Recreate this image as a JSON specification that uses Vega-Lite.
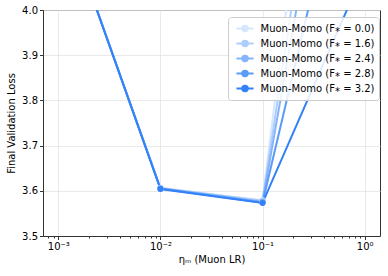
{
  "$schema": "https://vega.github.io/schema/vega-lite/v6.json",
  "autosize": "none",
  "width": 337,
  "height": 226,
  "padding": {"left": 43, "top": 10, "right": 8, "bottom": 40},
  "background": "white",
  "config": {
    "font": "DejaVu Sans",
    "view": {"stroke": "#333333", "strokeWidth": 1},
    "axis": {
      "labelFontSize": 10,
      "titleFontSize": 10,
      "titleFontWeight": "normal",
      "labelColor": "#000000",
      "titleColor": "#000000",
      "domainColor": "#333333",
      "tickColor": "#333333",
      "gridColor": "#e3e3e3",
      "gridWidth": 0.8,
      "labelFont": "DejaVu Sans",
      "titleFont": "DejaVu Sans"
    },
    "legend": {"labelFont": "DejaVu Sans"}
  },
  "data": {
    "values": [
      {"label": "Muon-Momo (F⁎ = 0.0)", "lr": 0.001, "loss": 4.24},
      {"label": "Muon-Momo (F⁎ = 0.0)", "lr": 0.01, "loss": 3.606},
      {"label": "Muon-Momo (F⁎ = 0.0)", "lr": 0.1, "loss": 3.579},
      {"label": "Muon-Momo (F⁎ = 0.0)", "lr": 1.0, "loss": 5.40},
      {"label": "Muon-Momo (F⁎ = 1.6)", "lr": 0.001, "loss": 4.24},
      {"label": "Muon-Momo (F⁎ = 1.6)", "lr": 0.01, "loss": 3.606},
      {"label": "Muon-Momo (F⁎ = 1.6)", "lr": 0.1, "loss": 3.578},
      {"label": "Muon-Momo (F⁎ = 1.6)", "lr": 1.0, "loss": 5.08},
      {"label": "Muon-Momo (F⁎ = 2.4)", "lr": 0.001, "loss": 4.24},
      {"label": "Muon-Momo (F⁎ = 2.4)", "lr": 0.01, "loss": 3.605},
      {"label": "Muon-Momo (F⁎ = 2.4)", "lr": 0.1, "loss": 3.576},
      {"label": "Muon-Momo (F⁎ = 2.4)", "lr": 1.0, "loss": 4.86},
      {"label": "Muon-Momo (F⁎ = 2.8)", "lr": 0.001, "loss": 4.24},
      {"label": "Muon-Momo (F⁎ = 2.8)", "lr": 0.01, "loss": 3.605},
      {"label": "Muon-Momo (F⁎ = 2.8)", "lr": 0.1, "loss": 3.574},
      {"label": "Muon-Momo (F⁎ = 2.8)", "lr": 1.0, "loss": 4.53},
      {"label": "Muon-Momo (F⁎ = 3.2)", "lr": 0.001, "loss": 4.24},
      {"label": "Muon-Momo (F⁎ = 3.2)", "lr": 0.01, "loss": 3.604},
      {"label": "Muon-Momo (F⁎ = 3.2)", "lr": 0.1, "loss": 3.573},
      {"label": "Muon-Momo (F⁎ = 3.2)", "lr": 1.0, "loss": 4.09}
    ]
  },
  "mark": {"type": "line", "clip": true, "strokeWidth": 2, "point": {"filled": true, "size": 36, "opacity": 1}},
  "encoding": {
    "x": {
      "field": "lr",
      "type": "quantitative",
      "scale": {"type": "log", "domain": [0.000708, 1.413], "nice": false},
      "axis": {
        "title": "ηₘ (Muon LR)",
        "values": [0.0008, 0.0009, 0.001, 0.002, 0.003, 0.004, 0.005, 0.006, 0.007, 0.008, 0.009, 0.01, 0.02, 0.03, 0.04, 0.05, 0.06, 0.07, 0.08, 0.09, 0.1, 0.2, 0.3, 0.4, 0.5, 0.6, 0.7, 0.8, 0.9, 1.0],
        "labelExpr": "datum.value > 0.00099 && datum.value < 0.00101 ? '10⁻³' : datum.value > 0.0099 && datum.value < 0.0101 ? '10⁻²' : datum.value > 0.099 && datum.value < 0.101 ? '10⁻¹' : datum.value > 0.99 && datum.value < 1.01 ? '10⁰' : ''",
        "tickSize": {"condition": {"test": "abs(log(datum.value)/LN10 - round(log(datum.value)/LN10)) < 0.001", "value": 3.5}, "value": 2},
        "gridOpacity": {"condition": {"test": "abs(log(datum.value)/LN10 - round(log(datum.value)/LN10)) < 0.001", "value": 1}, "value": 0},
        "labelPadding": 2,
        "titlePadding": 3,
        "labelFlush": false,
        "labelOverlap": false
      }
    },
    "y": {
      "field": "loss",
      "type": "quantitative",
      "scale": {"domain": [3.5, 4.0], "nice": false, "zero": false},
      "axis": {
        "title": "Final Validation Loss",
        "values": [3.5, 3.6, 3.7, 3.8, 3.9, 4.0],
        "format": ".1f",
        "tickSize": 3.5,
        "labelPadding": 2,
        "titlePadding": 5
      }
    },
    "color": {
      "field": "label",
      "type": "nominal",
      "scale": {
        "domain": ["Muon-Momo (F⁎ = 0.0)", "Muon-Momo (F⁎ = 1.6)", "Muon-Momo (F⁎ = 2.4)", "Muon-Momo (F⁎ = 2.8)", "Muon-Momo (F⁎ = 3.2)"],
        "range": ["#d6e6fd", "#adcdfc", "#85b4fa", "#5c9bf8", "#3382f7"]
      },
      "legend": {
        "title": null,
        "orient": "none",
        "legendX": 185,
        "legendY": 7,
        "fillColor": "rgba(255,255,255,0.85)",
        "strokeColor": "#cccccc",
        "cornerRadius": 3,
        "padding": 4,
        "labelFontSize": 10,
        "labelColor": "#000000",
        "symbolType": "M-1.4,0L1.4,0M0.45,0A0.45,0.45 0 1 1 -0.45,0A0.45,0.45 0 1 1 0.45,0",
        "symbolSize": 150,
        "symbolStrokeWidth": 2,
        "rowPadding": -1.5,
        "labelOffset": 8,
        "symbolOffset": 5.5,
        "encode": {
          "symbols": {
            "update": {
              "fill": {"scale": "color", "field": "value"},
              "stroke": {"scale": "color", "field": "value"},
              "opacity": {"value": 1}
            }
          }
        }
      }
    }
  }
}
